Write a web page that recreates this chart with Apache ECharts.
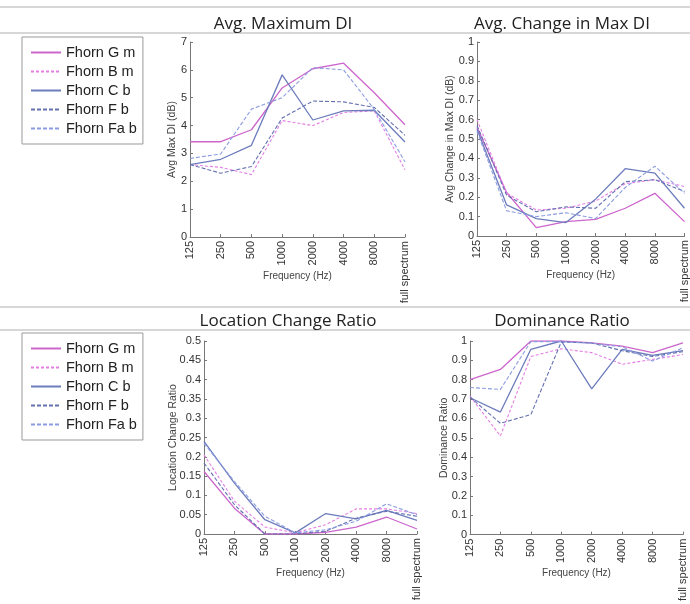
<!DOCTYPE html>
<html>
<head>
<meta charset="utf-8">
<script src="https://cdn.jsdelivr.net/npm/echarts@6/dist/echarts.min.js"></script>
<style>
html,body{margin:0;padding:0;background:#fff;}
#chart{width:690px;height:604px;}
</style>
</head>
<body>
<div id="chart"></div>
<script>
const categories = ['125','250','500','1000','2000','4000','8000','full spectrum'];
const seriesNames = ['Fhorn G m','Fhorn B m','Fhorn C b','Fhorn F b','Fhorn Fa b'];
const panelTitles = ['Avg. Maximum DI','Avg. Change in Max DI','Location Change Ratio','Dominance Ratio'];
const yAxisNames = ['Avg Max DI (dB)','Avg Change in Max DI (dB)','Location Change Ratio','Dominance Ratio'];
const xAxisName = 'Frequency (Hz)';

// Avg. Maximum DI
const maxDI_Gm  = [3.42, 3.42, 3.85, 5.35, 6.04, 6.24, 5.18, 4.03];
const maxDI_Bm  = [2.60, 2.50, 2.24, 4.18, 4.00, 4.47, 4.53, 2.41];
const maxDI_Cb  = [2.60, 2.79, 3.29, 5.82, 4.20, 4.53, 4.55, 3.41];
const maxDI_Fb  = [2.60, 2.29, 2.53, 4.27, 4.88, 4.85, 4.65, 3.65];
const maxDI_Fab = [2.82, 2.98, 4.59, 5.00, 6.08, 6.00, 4.58, 2.70];

// Avg. Change in Max DI
const chg_Gm  = [0.56, 0.224, 0.043, 0.074, 0.086, 0.143, 0.22, 0.074];
const chg_Bm  = [0.60, 0.22, 0.134, 0.143, 0.18, 0.27, 0.29, 0.255];
const chg_Cb  = [0.55, 0.16, 0.09, 0.069, 0.19, 0.347, 0.324, 0.143];
const chg_Fb  = [0.57, 0.21, 0.125, 0.15, 0.143, 0.28, 0.29, 0.23];
const chg_Fab = [0.54, 0.13, 0.10, 0.12, 0.09, 0.25, 0.36, 0.22];

// Location Change Ratio
const loc_Gm  = [0.162, 0.067, 0.0, 0.0, 0.004, 0.018, 0.044, 0.013];
const loc_Bm  = [0.205, 0.085, 0.018, 0.003, 0.024, 0.065, 0.065, 0.053];
const loc_Cb  = [0.240, 0.132, 0.037, 0.003, 0.053, 0.039, 0.061, 0.035];
const loc_Fb  = [0.184, 0.076, 0.0, 0.0, 0.007, 0.041, 0.059, 0.046];
const loc_Fab = [0.235, 0.136, 0.046, 0.003, 0.011, 0.033, 0.078, 0.050];

// Dominance Ratio
const dom_Gm  = [0.80, 0.853, 1.0, 1.0, 0.99, 0.974, 0.94, 0.99];
const dom_Bm  = [0.715, 0.51, 0.92, 0.96, 0.94, 0.88, 0.905, 0.93];
const dom_Cb  = [0.707, 0.633, 0.957, 1.0, 0.753, 0.957, 0.926, 0.95];
const dom_Fb  = [0.71, 0.575, 0.62, 0.995, 0.99, 0.95, 0.92, 0.945];
const dom_Fab = [0.76, 0.75, 0.997, 0.997, 0.988, 0.97, 0.897, 0.965];

const panelData = [
  [maxDI_Gm, maxDI_Bm, maxDI_Cb, maxDI_Fb, maxDI_Fab],
  [chg_Gm, chg_Bm, chg_Cb, chg_Fb, chg_Fab],
  [loc_Gm, loc_Bm, loc_Cb, loc_Fb, loc_Fab],
  [dom_Gm, dom_Bm, dom_Cb, dom_Fb, dom_Fab]
];
const yMax = [7, 1, 0.5, 1];
const yInterval = [1, 0.1, 0.05, 0.1];

const seriesColors = ['#cc66cc', '#e47ee4', '#6c7cbc', '#6470b0', '#8c9ce0'];
const seriesDash = ['solid', [3, 2], 'solid', [4, 2], [4, 2]];

const grids = [
  {left: 190, top: 42, width: 215, height: 195},
  {left: 477, top: 42, width: 212, height: 194},
  {left: 204, top: 341, width: 213, height: 193},
  {left: 470, top: 341, width: 213, height: 196}
];
const yNameGap = [12, 21, 25, 20];
const titlePos = [[283, 24], [562, 24], [288, 321], [562, 321]];

const font = 'Liberation Sans, Arial, sans-serif';
const axisColor = '#777';
const labelColor = '#333';

const xAxes = grids.map((g, i) => ({
  type: 'category', gridIndex: i, data: categories, boundaryGap: false,
  axisLine: {lineStyle: {color: axisColor, width: 1}},
  axisTick: {inside: true, length: 3, lineStyle: {color: axisColor}},
  axisLabel: {rotate: 90, fontSize: 11, color: labelColor, fontFamily: font, margin: 4, interval: 0},
  name: xAxisName, nameLocation: 'middle', nameGap: 34, nameMoveOverlap: false,
  nameTextStyle: {fontSize: 10, color: '#444', fontFamily: font},
  splitLine: {show: false}
}));
const yAxes = grids.map((g, i) => ({
  type: 'value', gridIndex: i, min: 0, max: yMax[i], interval: yInterval[i],
  axisLine: {show: true, lineStyle: {color: axisColor, width: 1}},
  axisTick: {show: true, inside: true, length: 3, lineStyle: {color: axisColor}},
  axisLabel: {fontSize: 11, color: labelColor, fontFamily: font, margin: 3},
  name: yAxisNames[i], nameLocation: 'middle', nameGap: yNameGap[i], nameRotate: 90, nameMoveOverlap: false,
  nameTextStyle: {fontSize: 10.5, color: '#444', fontFamily: font},
  splitLine: {show: false}
}));

const series = [];
panelData.forEach((sets, p) => {
  sets.forEach((vals, s) => {
    series.push({
      type: 'line', name: seriesNames[s], xAxisIndex: p, yAxisIndex: p,
      data: vals, symbol: 'none', animation: false,
      lineStyle: {color: seriesColors[s], width: s === 0 || s === 2 ? 1.3 : 1.1, type: seriesDash[s]},
      itemStyle: {color: seriesColors[s]}
    });
  });
});

const legendBase = {
  orient: 'vertical', left: 22, data: seriesNames,
  backgroundColor: '#fff', borderColor: '#999', borderWidth: 1,
  padding: [8, 6, 8, 8], itemGap: 4, itemWidth: 30, itemHeight: 15,
  itemStyle: {opacity: 0},
  textStyle: {fontSize: 14.5, color: '#222', fontFamily: font},
  selectedMode: false
};

const graphics = [];
[7, 33, 307, 330].forEach(y => {
  graphics.push({type: 'line', shape: {x1: 0, y1: y, x2: 690, y2: y}, style: {stroke: '#b0b0b0', lineWidth: 1.2}, silent: true});
});
panelTitles.forEach((t, i) => {
  graphics.push({type: 'text', x: titlePos[i][0], y: titlePos[i][1],
    style: {text: t, fill: '#222', font: '17px "Open Sans", sans-serif', textAlign: 'center', textVerticalAlign: 'middle'}});
});

const chart = echarts.init(document.getElementById('chart'), null, {renderer: 'canvas'});
chart.setOption({
  animation: false,
  backgroundColor: '#fff',
  grid: grids,
  xAxis: xAxes,
  yAxis: yAxes,
  legend: [Object.assign({top: 37}, legendBase), Object.assign({top: 333}, legendBase)],
  graphic: graphics,
  series: series
});
</script>
</body>
</html>
